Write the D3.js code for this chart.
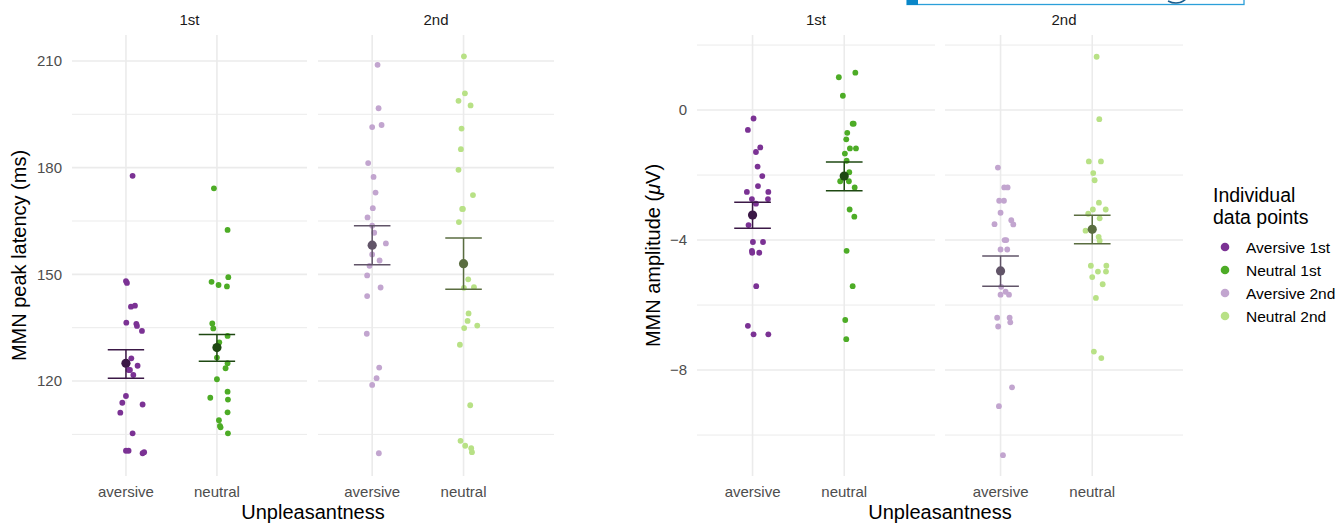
<!DOCTYPE html>
<html>
<head>
<meta charset="utf-8">
<script src="https://cdn.jsdelivr.net/npm/d3@7"></script>
<style>
  body { margin: 0; background: #fff; }
  svg { display: block; font-family: "Liberation Sans", Arial, sans-serif; }
</style>
</head>
<body>
<svg width="1339" height="523"></svg>
<script>
// ---- data ----
const categories = ['aversive', 'neutral']
const sessions = ['1st', '2nd']
const groups = ['Aversive 1st', 'Neutral 1st', 'Aversive 2nd', 'Neutral 2nd']
const pointColors = ['#7b3294', '#4dac26', '#c2a5cf', '#b8e186']
const meanColors = ['#3b1846', '#1e4812', '#615468', '#5a6d40']

// [value, jitter in category units]
const latencyAversive1st = [[177.7, .073], [148.1, 0], [147.6, .011], [140.9, .055], [141.2, .099], [136.4, .004],
  [136.1, .114], [135.5, .121], [134.1, .176], [126.4, .059], [124.3, .128], [123.1, .029], [123.1, .044],
  [121.7, .081], [115.8, 0], [113.9, -.04], [113.4, .183], [111.1, -.062], [105.3, .073], [100.4, 0],
  [100.4, .029], [99.7, .183], [100.0, .2]]
const latencyNeutral1st = [[174.2, -.033], [162.5, .117], [147.9, -.059], [149.2, .125], [147.0, .018], [146.6, .11],
  [136.2, -.051], [134.8, -.04], [132.7, .117], [130.9, .026], [126.6, 0], [125.0, .117], [123.6, .095],
  [120.5, 0], [117.0, .117], [115.3, -.073], [114.8, .121], [111.2, .117], [109.0, .022], [107.4, .033],
  [107.0, .04], [105.3, .121]]
const latencyAversive2nd = [[208.9, .059], [196.7, .07], [191.4, 0], [192.0, .103], [181.3, -.044], [177.4, .015],
  [173.0, .037], [168.6, .007], [166.0, -.051], [163.7, 0], [161.7, .022], [158.7, .15], [155.6, 0],
  [153.9, .081], [152.4, -.029], [149.7, -.055], [146.3, .092], [143.9, -.055], [133.3, -.059],
  [123.8, .077], [120.8, .048], [118.9, 0], [99.7, .073]]
const latencyNeutral2nd = [[211.3, .004], [200.9, .015], [198.8, -.055], [197.5, .077], [191.0, -.022], [185.2, -.029],
  [179.4, -.055], [172.3, .103], [168.4, -.015], [168.4, -.007], [164.7, -.051], [148.6, .051], [146.2, .004],
  [146.4, .114], [139.0, .055], [136.9, .044], [134.9, .007], [135.6, .15], [130.2, -.04], [113.2, .073],
  [103.2, -.033], [101.8, .018], [101.1, .084], [100.0, .092]]
const latencyMean = [125.0, 129.4, 158.2, 153.0]
const latencyLow = [120.8, 125.6, 152.7, 145.8]
const latencyHigh = [128.8, 133.1, 163.7, 160.2]
const latencyTicks = [120, 150, 180, 210]
const latencyMinor = [105, 135, 165, 195]

const amplitudeAversive1st = [[-0.26, .011], [-0.61, -.051], [-1.15, .084], [-1.29, .037], [-1.74, .055], [-2.03, .106],
  [-2.34, .059], [-2.52, -.062], [-2.52, .172], [-2.74, -.007], [-2.74, .168], [-2.88, .037], [-3.54, -.044],
  [-4.06, .004], [-4.06, .114], [-4.33, -.007], [-4.39, -.004], [-4.39, .073], [-5.42, .04], [-6.64, -.051],
  [-6.90, .011], [-6.90, .172]]
const amplitudeNeutral1st = [[1.15, .121], [1.01, -.059], [0.44, -.015], [-0.42, .092], [-0.42, .103], [-0.70, .033],
  [-0.90, .022], [-1.18, .062], [-1.18, .128], [-1.34, .007], [-1.56, .026], [-1.91, .055], [-2.19, -.044],
  [-2.19, .051], [-2.38, .114], [-3.06, .059], [-3.28, .11], [-4.33, .026], [-5.42, .092], [-6.46, .011],
  [-7.05, .022]]
const amplitudeAversive2nd = [[-1.77, -.029], [-2.38, .04], [-2.38, .077], [-2.79, -.015], [-2.79, .037], [-3.16, 0],
  [-3.51, -.066], [-3.39, .117], [-3.52, .139], [-4.0, .044], [-4.0, .062], [-4.29, 0], [-4.29, .073],
  [-5.44, .007], [-5.59, .055], [-5.68, .092], [-5.68, 0], [-6.39, -.037], [-6.39, .099], [-6.53, .106],
  [-6.66, -.026], [-8.53, .125], [-9.11, -.018], [-10.62, .026]]
const amplitudeNeutral2nd = [[1.64, .048], [-0.28, .077], [-1.58, -.037], [-1.58, .095], [-1.94, .011], [-2.16, .026],
  [-2.85, .073], [-3.06, .007], [-3.06, .147], [-3.19, -.044], [-3.33, .081], [-3.71, -.073], [-3.90, .07],
  [-4.02, .081], [-4.79, -.015], [-4.79, .154], [-4.97, .062], [-4.97, .15], [-5.14, 0], [-5.36, .114],
  [-5.78, .04], [-7.43, .018], [-7.63, .099]]
const amplitudeMean = [-3.23, -2.03, -4.95, -3.67]
const amplitudeLow = [-3.64, -2.48, -5.42, -4.11]
const amplitudeHigh = [-2.84, -1.60, -4.49, -3.24]
const amplitudeTicks = [-8, -4, 0]
const amplitudeMinor = [-10, -6, -2, 2]

// ---- layout ----
const svg = d3.select('svg')
const panelTop = 35, panelBottom = 476
const grid = '#ebebeb'
const tickGrey = '#4d4d4d'

const drawChart = (props) => {
  const { groupData, means, lows, highs, yDomain, ticks, minor, facets, xDomain, yLabel, titleX } = props
  const y = d3.scaleLinear().domain(yDomain).range([panelBottom, panelTop])

  facets.forEach((range, f) => {
    const x = d3.scaleLinear().domain(xDomain).range(range)
    const g = svg.append('g')

    g.selectAll('line.minor').data(minor).join('line')
      .attr('class', 'minor')
      .attr('x1', range[0]).attr('x2', range[1])
      .attr('y1', y).attr('y2', y)
      .attr('stroke', grid).attr('stroke-width', 1)
    g.selectAll('line.major').data(ticks).join('line')
      .attr('class', 'major')
      .attr('x1', range[0]).attr('x2', range[1])
      .attr('y1', y).attr('y2', y)
      .attr('stroke', grid).attr('stroke-width', 1.6)
    g.selectAll('line.vert').data([1, 2]).join('line')
      .attr('class', 'vert')
      .attr('x1', x).attr('x2', x)
      .attr('y1', panelTop).attr('y2', panelBottom)
      .attr('stroke', grid).attr('stroke-width', 1.6)

    g.append('text')
      .attr('x', (range[0] + range[1]) / 2).attr('y', 25)
      .attr('text-anchor', 'middle').attr('font-size', 15).attr('fill', '#1a1a1a')
      .text(sessions[f])

    g.selectAll('text.cat').data(categories).join('text')
      .attr('class', 'cat')
      .attr('x', (d, i) => x(i + 1)).attr('y', 497)
      .attr('text-anchor', 'middle').attr('font-size', 15).attr('fill', tickGrey)
      .text(d => d)

    categories.forEach((c, ci) => {
      const gi = f * 2 + ci
      g.append('g').selectAll('circle').data(groupData[gi]).join('circle')
        .attr('cx', d => x(ci + 1 + d[1]))
        .attr('cy', d => y(d[0]))
        .attr('r', 2.9)
        .attr('fill', pointColors[gi])

      const cx = x(ci + 1), hw = x(ci + 1.2) - cx
      const eb = g.append('g').attr('stroke', meanColors[gi]).attr('stroke-width', 1.5)
      eb.append('line').attr('x1', cx).attr('x2', cx).attr('y1', y(lows[gi])).attr('y2', y(highs[gi]))
      eb.append('line').attr('x1', cx - hw).attr('x2', cx + hw).attr('y1', y(lows[gi])).attr('y2', y(lows[gi]))
      eb.append('line').attr('x1', cx - hw).attr('x2', cx + hw).attr('y1', y(highs[gi])).attr('y2', y(highs[gi]))
      g.append('circle').attr('cx', cx).attr('cy', y(means[gi])).attr('r', 4.6).attr('fill', meanColors[gi])
    })
  })

  const axis = svg.append('g')
    .attr('transform', `translate(${facets[0][0]},0)`)
    .call(d3.axisLeft(y).tickValues(ticks).tickSize(0).tickPadding(10))
  axis.select('.domain').remove()
  axis.selectAll('text').attr('font-size', 15).attr('fill', tickGrey)
    .attr('font-family', '"Liberation Sans", Arial, sans-serif')

  const yl = svg.append('text')
    .attr('transform', `translate(${props.yLabelX},${(panelTop + panelBottom) / 2}) rotate(-90)`)
    .attr('text-anchor', 'middle').attr('dominant-baseline', 'middle')
    .attr('font-size', 20).attr('fill', '#000')
  yLabel(yl)

  svg.append('text')
    .attr('x', titleX).attr('y', 519)
    .attr('text-anchor', 'middle').attr('font-size', 20).attr('fill', '#000')
    .text('Unpleasantness')
}

drawChart({
  groupData: [latencyAversive1st, latencyNeutral1st, latencyAversive2nd, latencyNeutral2nd],
  means: latencyMean, lows: latencyLow, highs: latencyHigh,
  yDomain: [93.3, 217.3], ticks: latencyTicks, minor: latencyMinor,
  facets: [[72, 307], [318, 554]], xDomain: [0.407, 2.99],
  yLabelX: 21, titleX: 313,
  yLabel: t => t.text('MMN peak latency (ms)')
})

drawChart({
  groupData: [amplitudeAversive1st, amplitudeNeutral1st, amplitudeAversive2nd, amplitudeNeutral2nd],
  means: amplitudeMean, lows: amplitudeLow, highs: amplitudeHigh,
  yDomain: [-11.26, 2.31], ticks: amplitudeTicks, minor: amplitudeMinor,
  facets: [[697, 935], [945, 1183]], xDomain: [0.394, 2.99],
  yLabelX: 655, titleX: 940,
  yLabel: t => {
    t.append('tspan').text('MMN amplitude (')
    t.append('tspan').attr('font-style', 'italic').text('\u03bc')
    t.append('tspan').text('V)')
  }
})

// legend
const legend = svg.append('g').attr('transform', 'translate(1213,0)')
legend.selectAll('text.title').data(['Individual', 'data points']).join('text')
  .attr('class', 'title')
  .attr('x', 0).attr('y', (d, i) => 202 + i * 22)
  .attr('font-size', 19.5).attr('fill', '#000')
  .text(d => d)
const items = legend.selectAll('g.item').data(groups).join('g')
  .attr('class', 'item')
  .attr('transform', (d, i) => `translate(0,${247 + i * 23})`)
items.append('circle').attr('cx', 12).attr('cy', 0).attr('r', 4.3).attr('fill', (d, i) => pointColors[i])
items.append('text').attr('x', 33).attr('y', 0).attr('dominant-baseline', 'central')
  .attr('font-size', 15.5).attr('fill', '#000').text(d => d)

// cropped box at the top edge
svg.append('rect').attr('x', 907).attr('y', -10).attr('width', 337).attr('height', 14.5)
  .attr('fill', 'none').attr('stroke', '#2b9fd9').attr('stroke-width', 1.3)
svg.append('rect').attr('x', 907).attr('y', -2).attr('width', 11).attr('height', 7).attr('fill', '#0a86c8')
svg.append('path').attr('d', 'M1168,1 Q1178,6 1186,-1')
  .attr('fill', 'none').attr('stroke', '#1b5f8f').attr('stroke-width', 1.5)
</script>
</body>
</html>
